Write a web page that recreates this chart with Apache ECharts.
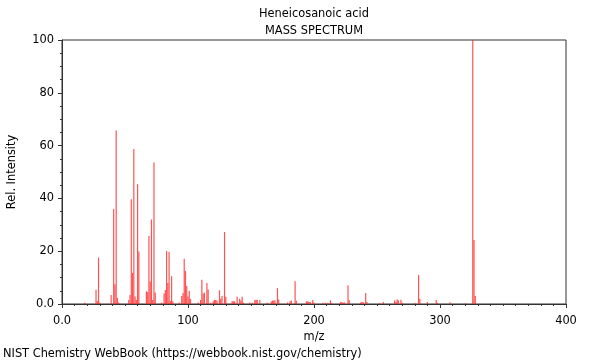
<!DOCTYPE html>
<html>
<head>
<meta charset="utf-8">
<script src="https://cdn.jsdelivr.net/npm/echarts@6/dist/echarts.min.js"></script>
<style>html,body{margin:0;padding:0;background:#fff}#c{width:600px;height:360px}</style>
</head>
<body>
<div id="c"></div>
<script>
var titleText = "Heneicosanoic acid";
var subtitleText = "MASS SPECTRUM";
var footerText = "NIST Chemistry WebBook (https://webbook.nist.gov/chemistry)";
var xTicks = [0, 100, 200, 300, 400];
var yTicks = [0, 20, 40, 60, 80, 100];
var mz = [18, 27, 28, 29, 30, 39, 41, 42, 43, 44, 45, 53, 54, 55, 56, 57, 58, 59, 60, 61,
  67, 68, 69, 70, 71, 72, 73, 74, 79, 81, 82, 83, 84, 85, 86, 87, 88, 93, 95, 96, 97, 98, 99, 100,
  101, 102, 108, 110, 111, 112, 113, 115, 116, 118, 120, 121, 122, 123, 125, 126, 127, 129, 130,
  135, 136, 137, 139, 141, 142, 143, 144, 149, 151, 153, 154, 155, 157, 163, 166, 167, 168, 169,
  171, 172, 179, 181, 182, 185, 186, 194, 195, 196, 197, 199, 200, 207, 209, 211, 213, 214,
  221, 222, 223, 224, 227, 228, 237, 238, 239, 241, 242, 252, 255, 264, 265, 266, 267, 269, 270,
  280, 283, 284, 290, 297, 298, 308, 320, 326, 327, 328];
var intensity = [0.5, 5.4, 1.1, 17.6, 0.5, 3.4, 36, 7.5, 65.7, 2.3, 0.6, 1.5, 3.4, 39.7, 11.8, 58.7, 2.8, 1.5, 45.4, 19.9,
  4.8, 4.5, 25.8, 8.5, 32, 1.5, 53.6, 4.4, 0.5, 4, 5.3, 20.1, 8, 19.7, 1.1, 10.5, 1, 0.6, 3, 4.2, 17.1, 12.5, 6.8, 2.8,
  4.9, 1.9, 0.6, 1.5, 9.2, 4, 4.3, 8, 5.5, 0.5, 1, 1.5, 1.5, 1.3, 5.2, 2, 3, 27.3, 2.7,
  1, 1, 1, 2.7, 2, 1.3, 2.7, 0.5, 0.6, 0.5, 1.5, 1.6, 1.5, 1.5, 0.5, 0.9, 1.3, 1.3, 1.4,
  6, 1.7, 0.6, 1, 1.3, 8.6, 1.2, 1, 1, 0.8, 0.8, 1.5, 0.6, 0.5, 0.5, 0.5, 1.4, 0.4,
  0.7, 0.7, 0.6, 0.7, 7.1, 1.4, 0.6, 0.8, 0.8, 4.2, 0.8, 0.3, 0.8, 1.4, 0.8, 1.8, 1.4, 1.6, 0.5,
  0.4, 11, 2, 0.8, 1.5, 0.4, 0.7, 0.3, 100, 24.2, 3];

var data = mz.map(function (m, i) { return [m, intensity[i]]; });
var FONT = "DejaVu Sans";
var FS = 11.4;
var chart = echarts.init(document.getElementById('c'), null, {renderer: 'canvas'});
chart.setOption({
  animation: false,
  backgroundColor: '#ffffff',
  textStyle: {fontFamily: FONT},
  title: [
    {text: titleText, left: 314, top: 9, padding: 0, textAlign: 'center',
     textStyle: {fontFamily: FONT, fontSize: FS, fontWeight: 'normal', color: '#000'}},
    {text: subtitleText, left: 314, top: 26, padding: 0, textAlign: 'center',
     textStyle: {fontFamily: FONT, fontSize: FS, fontWeight: 'normal', color: '#000'}},
    {text: footerText, left: 3, top: 349, padding: 0,
     textStyle: {fontFamily: FONT, fontSize: FS, fontWeight: 'normal', color: '#000'}}
  ],
  grid: {left: 62, right: 34, top: 40, bottom: 56, show: true, borderColor: '#333', borderWidth: 1,
    backgroundColor: 'transparent', containLabel: false, outerBoundsMode: 'none'},
  xAxis: {
    type: 'value', min: 0, max: 400, interval: 100,
    name: 'm/z', nameLocation: 'middle', nameGap: 25,
    nameTextStyle: {fontFamily: FONT, fontSize: FS, color: '#000'},
    axisLine: {show: true, onZero: false, lineStyle: {color: '#333', width: 1}},
    axisTick: {show: true, inside: false, length: 4, lineStyle: {color: '#333'}},
    minorTick: {show: true, splitNumber: 10, length: 2, lineStyle: {color: '#333'}},
    axisLabel: {fontFamily: FONT, fontSize: FS, color: '#000', margin: 12,
      formatter: function (v) { return v === 0 ? '0.0' : String(v); }},
    splitLine: {show: false}
  },
  yAxis: {
    type: 'value', min: 0, max: 100, interval: 20,
    name: 'Rel. Intensity', nameLocation: 'middle', nameGap: 44, nameRotate: 90,
    nameTextStyle: {fontFamily: FONT, fontSize: FS, color: '#000'},
    axisLine: {show: true, lineStyle: {color: '#333', width: 1}},
    axisTick: {show: true, inside: false, length: 4, lineStyle: {color: '#333'}},
    minorTick: {show: true, splitNumber: 4, length: 2, lineStyle: {color: '#333'}},
    axisLabel: {fontFamily: FONT, fontSize: FS, color: '#000', margin: 8,
      formatter: function (v) { return v === 0 ? '0.0' : String(v); }},
    splitLine: {show: false}
  },
  series: [{
    type: 'bar', data: data, barWidth: 1.2, barGap: '-100%',
    itemStyle: {color: 'rgba(255,40,40,0.8)'},
    large: false
  }]
});
</script>
</body>
</html>
